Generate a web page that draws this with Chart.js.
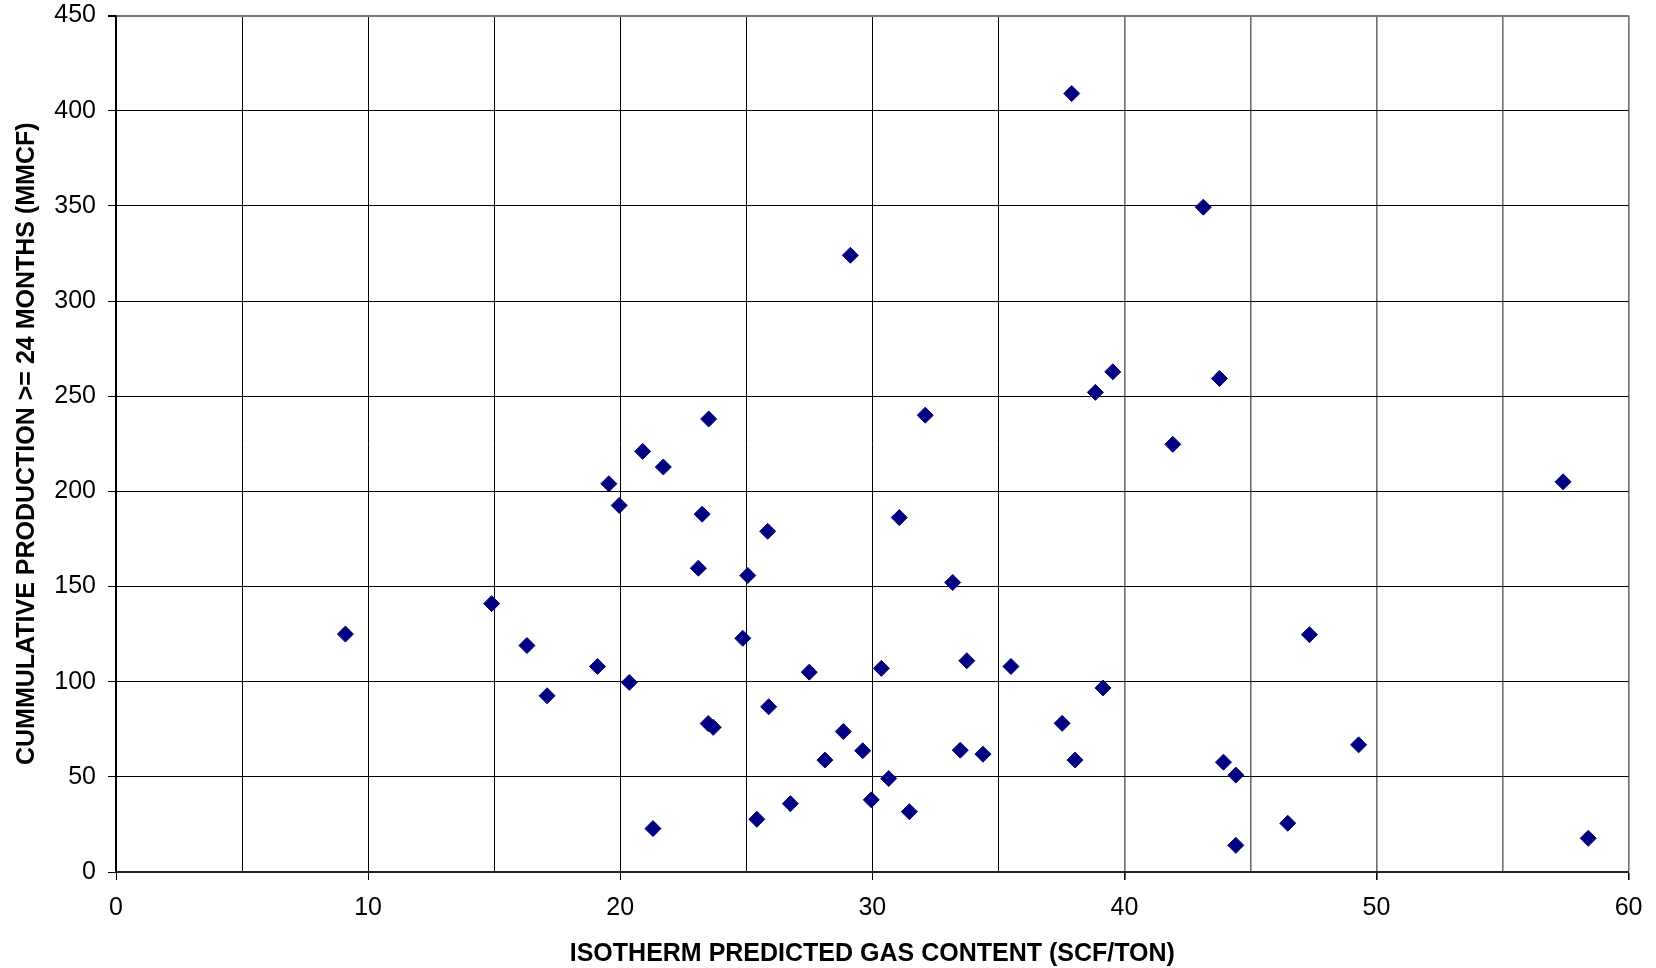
<!DOCTYPE html>
<html>
<head>
<meta charset="utf-8">
<script src="https://cdn.jsdelivr.net/npm/chart.js@4/dist/chart.umd.min.js"></script>
<style>
  html, body { margin: 0; padding: 0; background: #ffffff; }
  #wrap { width: 1656px; height: 968px; }
</style>
</head>
<body>
<div id="wrap"><canvas id="c" width="1656" height="968"></canvas></div>
<script>
// Isotherm predicted gas content (SCF/TON)
const gasContent = [
  9.1, 14.9, 16.3, 17.1, 19.1, 19.55, 19.96, 20.36, 20.89, 21.3,
  21.71, 23.1, 23.25, 23.49, 23.51, 23.69, 24.86, 25.06, 25.42, 25.85,
  25.89, 26.75, 27.5, 28.12, 28.85, 29.13, 29.62, 29.96, 30.36, 30.65,
  31.07, 31.47, 32.1, 33.19, 33.49, 33.75, 34.39, 35.5, 37.53, 37.91,
  38.04, 38.85, 39.15, 39.54, 41.92, 43.13, 43.77, 43.93, 44.42, 44.42,
  46.48, 47.34, 49.29, 57.4, 58.4
];
// Cumulative production >= 24 months (MMCF)
const production = [
  125, 141, 119, 92.6, 108, 204, 192.6, 99.6, 221, 22.8,
  212.8, 159.6, 188, 78, 238, 76, 122.8, 155.8, 27.7, 179,
  86.8, 35.9, 105, 58.8, 73.8, 324, 63.7, 37.9, 107, 49.1,
  186.2, 31.7, 240, 152.1, 64, 111, 61.9, 108, 78.1, 409,
  58.8, 252, 96.7, 262.8, 224.7, 349.3, 259.3, 57.7, 50.9, 14,
  25.6, 124.7, 66.8, 205, 17.7
];
const xAxisRange = [0, 60];
const xGridStep = 5;
const xLabelStep = 10;
const yAxisRange = [0, 450];
const yTickStep = 50;
const xTitle = 'ISOTHERM PREDICTED GAS CONTENT (SCF/TON)';
const yTitle = 'CUMMULATIVE PRODUCTION >= 24 MONTHS (MMCF)';

const points = gasContent.map((x, i) => ({ x: x, y: production[i] }));
const FONT = '"Liberation Sans", Arial, sans-serif';

new Chart(document.getElementById('c'), {
  type: 'scatter',
  data: {
    datasets: [{
      data: points,
      pointStyle: 'rectRot',
      pointRadius: 8,
      pointHoverRadius: 8,
      backgroundColor: '#000080',
      borderColor: '#000080',
      borderWidth: 1
    }]
  },
  options: {
    responsive: false,
    devicePixelRatio: 1,
    animation: false,
    events: [],
    layout: { padding: { top: 15.5, right: 27, left: 0, bottom: 0 } },
    plugins: { legend: { display: false }, tooltip: { enabled: false } },
    scales: {
      x: {
        type: 'linear',
        min: xAxisRange[0],
        max: xAxisRange[1],
        afterFit: (s) => { s.height = 96; },
        border: { display: true, color: '#222222', width: 2 },
        grid: {
          color: (ctx) => (ctx.tick && ctx.tick.value >= 40) ? '#6e6e6e' : '#000000',
          lineWidth: (ctx) => (ctx.tick && ctx.tick.value >= 40) ? 1.6 : 1,
          tickLength: 8,
          tickColor: (ctx) => (ctx.tick && ctx.tick.value % xLabelStep === 0) ? '#000000' : 'rgba(0,0,0,0)'
        },
        ticks: {
          stepSize: xGridStep,
          autoSkip: false,
          maxRotation: 0,
          padding: 13.5,
          color: '#000000',
          font: { family: FONT, size: 25, lineHeight: 1.2 },
          callback: (v) => (v % xLabelStep === 0 ? String(v) : '')
        },
        title: {
          display: true,
          text: xTitle,
          color: '#000000',
          font: { family: FONT, size: 25, weight: 'bold', lineHeight: 1 },
          padding: { top: 0, bottom: 1 }
        }
      },
      y: {
        type: 'linear',
        min: yAxisRange[0],
        max: yAxisRange[1],
        afterFit: (s) => { s.width = 116; },
        border: { display: true, color: '#000000', width: 1.5 },
        grid: {
          color: (ctx) => (ctx.tick && ctx.tick.value === 450) ? '#777777' : '#000000',
          lineWidth: (ctx) => (ctx.tick && ctx.tick.value === 450) ? 2 : 1,
          tickLength: 8,
          tickColor: '#000000'
        },
        ticks: {
          stepSize: yTickStep,
          autoSkip: false,
          padding: 12,
          color: '#000000',
          font: { family: FONT, size: 25, lineHeight: 0.25 }
        },
        title: {
          display: true,
          text: yTitle,
          color: '#000000',
          font: { family: FONT, size: 25, weight: 'bold', lineHeight: 1 },
          padding: { top: 14.5, bottom: 0 }
        }
      }
    }
  }
});
</script>
</body>
</html>
